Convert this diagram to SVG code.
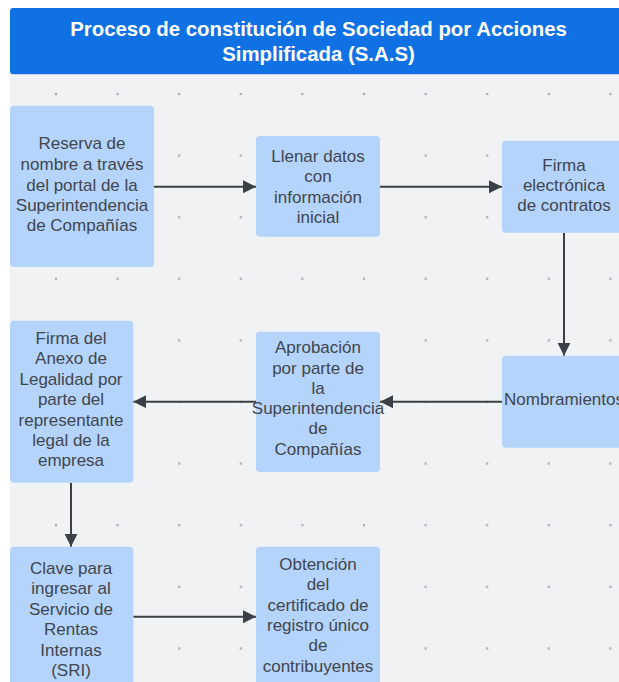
<svg xmlns="http://www.w3.org/2000/svg" width="619" height="682" viewBox="0 0 619 682">
  <style>
    .title { font-family: "Liberation Sans", Arial, sans-serif; font-weight: bold; font-size: 20.4px; fill: #ffffff; text-anchor: middle; }
    .box { fill: #b5d4fc; }
    .lbl { font-family: "Liberation Sans", Arial, sans-serif; font-size: 17px; fill: #40464e; text-anchor: middle; }
    .conn { stroke: #3a4048; stroke-width: 2; fill: none; marker-end: url(#arrow); }
  </style>
  <defs>
    <marker id="arrow" markerUnits="userSpaceOnUse" markerWidth="14" markerHeight="14" refX="13" refY="6.5" orient="auto">
      <path d="M0,0 L13,6.5 L0,13 z" fill="#3a4048"/>
    </marker>
    <pattern id="dots" patternUnits="userSpaceOnUse" x="25.2" y="63.2" width="61.6" height="61.6">
      <circle cx="30.8" cy="30.8" r="1.3" fill="#a9adb3"/>
    </pattern>
  </defs>

  <rect x="0" y="0" width="619" height="682" fill="#ffffff"/>
  <g id="canvas">
    <rect x="10" y="74" width="609" height="608" fill="#f1f2f4"/>
    <rect x="10" y="74" width="609" height="608" fill="url(#dots)"/>
  </g>

  <g id="title">
    <rect x="10" y="9" width="620" height="66" rx="3" fill="#c9d3e0"/>
    <rect x="10" y="8" width="620" height="66" rx="3" fill="#1071e5"/>
    <text class="title" x="318.5" y="36">Proceso de constitución de Sociedad por Acciones</text>
    <text class="title" x="318.5" y="61">Simplificada (S.A.S)</text>
  </g>

  <g id="connectors">
    <line class="conn" x1="154" y1="186.7" x2="256" y2="186.7"/>
    <line class="conn" x1="380" y1="186.7" x2="502" y2="186.7"/>
    <line class="conn" x1="564" y1="232.7" x2="564" y2="355.7"/>
    <line class="conn" x1="502" y1="401.7" x2="380" y2="401.7"/>
    <line class="conn" x1="256" y1="401.7" x2="133.3" y2="401.7"/>
    <line class="conn" x1="71" y1="482.7" x2="71" y2="546.7"/>
    <line class="conn" x1="133.3" y1="616.7" x2="256" y2="616.7"/>
  </g>

  <g id="node-reserva">
    <rect class="box" x="10" y="105.7" width="144" height="161.3" rx="4"/>
    <text class="lbl" x="82" y="149.3">Reserva de</text>
    <text class="lbl" x="82" y="170">nombre a través</text>
    <text class="lbl" x="82" y="190.5">del portal de la</text>
    <text class="lbl" x="82" y="210.8">Superintendencia</text>
    <text class="lbl" x="82" y="231">de Compañías</text>
  </g>

  <g id="node-llenar">
    <rect class="box" x="256" y="136" width="124" height="100.7" rx="4"/>
    <text class="lbl" x="318" y="161.7">Llenar datos</text>
    <text class="lbl" x="318" y="182.2">con</text>
    <text class="lbl" x="318" y="202.7">información</text>
    <text class="lbl" x="318" y="223">inicial</text>
  </g>

  <g id="node-firma-electronica">
    <rect class="box" x="502" y="140.7" width="124" height="92" rx="4"/>
    <text class="lbl" x="564" y="170.7">Firma</text>
    <text class="lbl" x="564" y="190.7">electrónica</text>
    <text class="lbl" x="564" y="210.7">de contratos</text>
  </g>

  <g id="node-nombramientos">
    <rect class="box" x="502" y="355.7" width="124" height="92" rx="4"/>
    <text class="lbl" x="564" y="405">Nombramientos</text>
  </g>

  <g id="node-aprobacion">
    <rect class="box" x="256" y="331.7" width="124" height="140.3" rx="4"/>
    <text class="lbl" x="318" y="353.3">Aprobación</text>
    <text class="lbl" x="318" y="374">por parte de</text>
    <text class="lbl" x="318" y="394">la</text>
    <text class="lbl" x="318" y="414">Superintendencia</text>
    <text class="lbl" x="318" y="434.3">de</text>
    <text class="lbl" x="318" y="454.5">Compañías</text>
  </g>

  <g id="node-firma-anexo">
    <rect class="box" x="10" y="320.7" width="123.3" height="162" rx="4"/>
    <text class="lbl" x="71" y="344">Firma del</text>
    <text class="lbl" x="71" y="364.3">Anexo de</text>
    <text class="lbl" x="71" y="385">Legalidad por</text>
    <text class="lbl" x="71" y="405.4">parte del</text>
    <text class="lbl" x="71" y="425.7">representante</text>
    <text class="lbl" x="71" y="446">legal de la</text>
    <text class="lbl" x="71" y="466.3">empresa</text>
  </g>

  <g id="node-clave">
    <rect class="box" x="10" y="546.7" width="123.3" height="145" rx="4"/>
    <text class="lbl" x="71" y="574">Clave para</text>
    <text class="lbl" x="71" y="594.4">ingresar al</text>
    <text class="lbl" x="71" y="614.8">Servicio de</text>
    <text class="lbl" x="71" y="635.2">Rentas</text>
    <text class="lbl" x="71" y="655.6">Internas</text>
    <text class="lbl" x="71" y="676">(SRI)</text>
  </g>

  <g id="node-obtencion">
    <rect class="box" x="256" y="546.7" width="124" height="145" rx="4"/>
    <text class="lbl" x="318" y="570">Obtención</text>
    <text class="lbl" x="318" y="590.3">del</text>
    <text class="lbl" x="318" y="610.6">certificado de</text>
    <text class="lbl" x="318" y="630.9">registro único</text>
    <text class="lbl" x="318" y="651.2">de</text>
    <text class="lbl" x="318" y="671.5">contribuyentes</text>
  </g>
</svg>
